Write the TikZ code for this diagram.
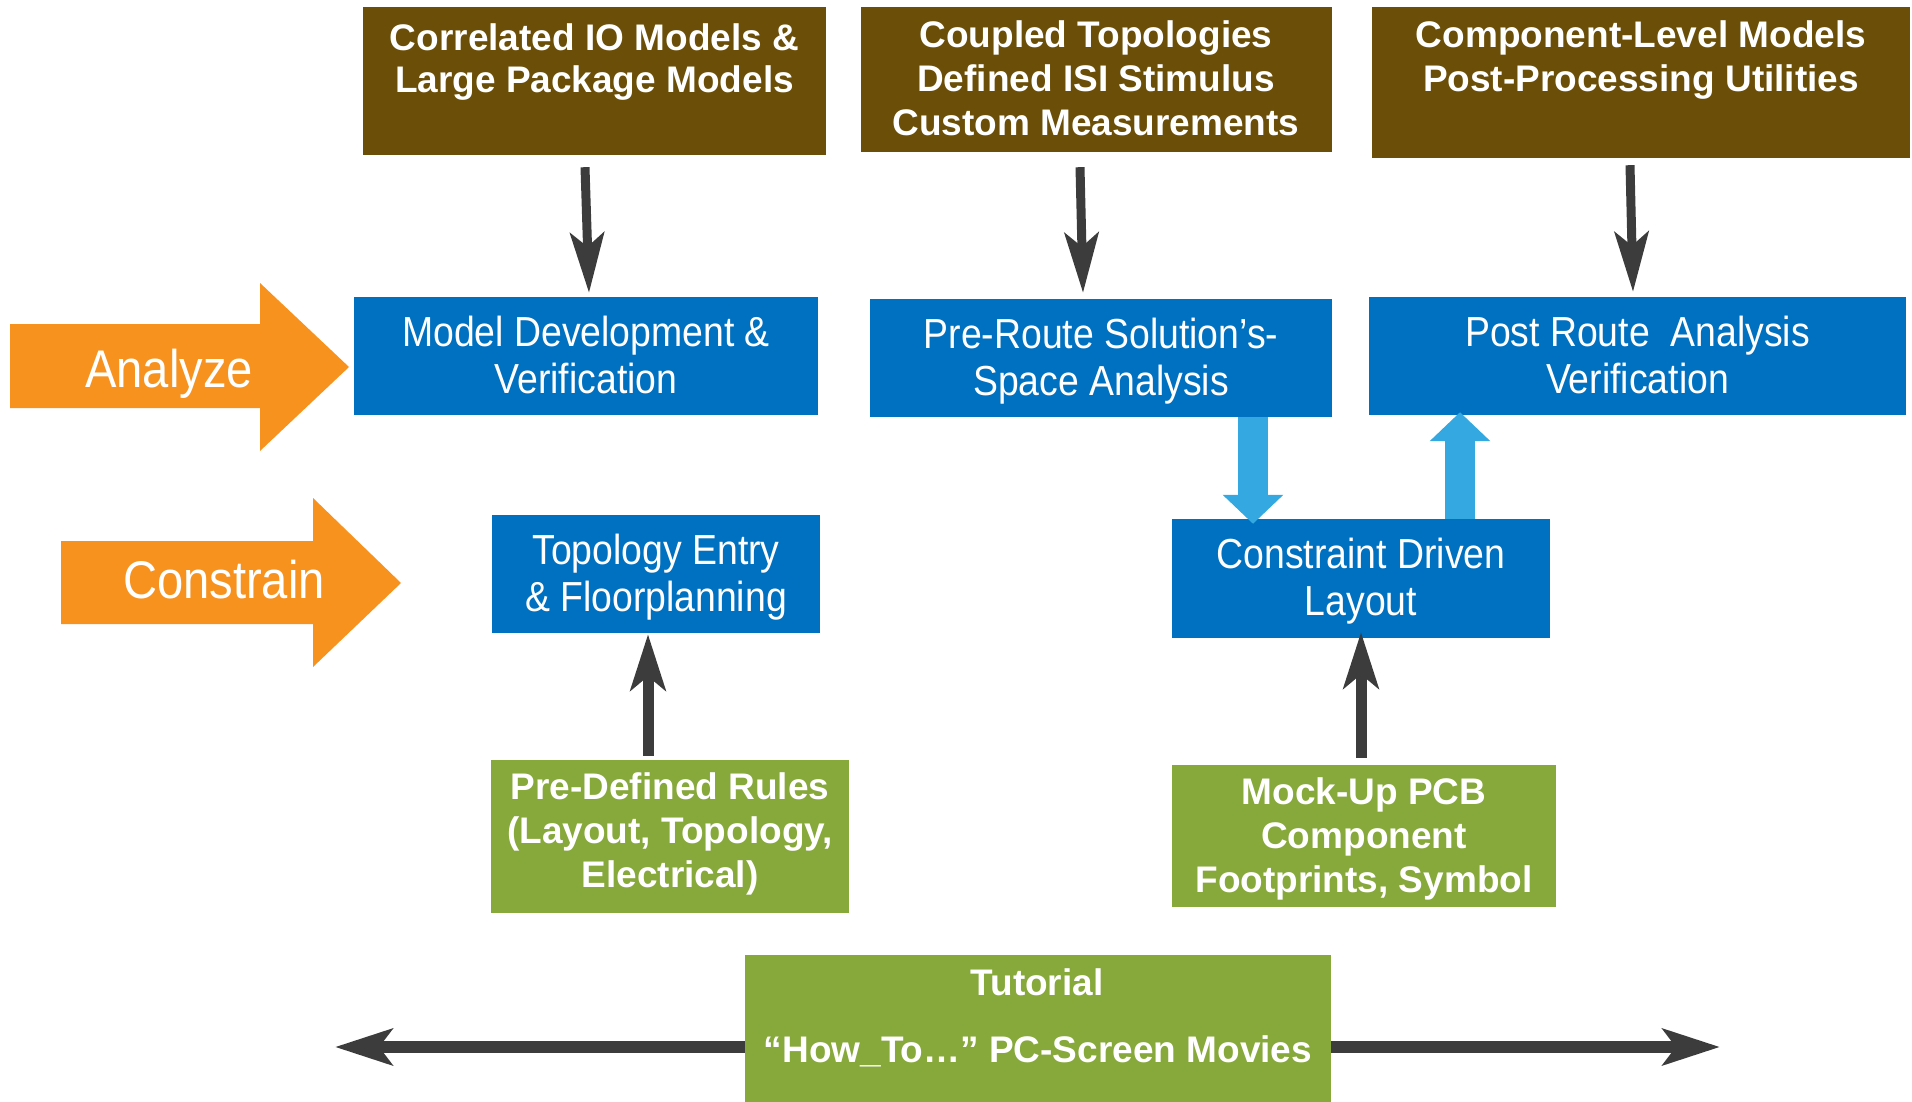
\documentclass[tikz,border=0pt]{standalone}
\usepackage{fontspec}
\setmainfont{Liberation Sans}
\newfontfamily\narrowsans[FakeStretch=0.89]{Liberation Sans}
\usetikzlibrary{arrows.meta}
\definecolor{inbrown}{RGB}{107,78,7}
\definecolor{flowblue}{RGB}{0,112,192}
\definecolor{linkblue}{RGB}{52,168,224}
\definecolor{phaseorange}{RGB}{247,146,30}
\definecolor{aidgreen}{RGB}{135,168,58}
\definecolor{darkline}{RGB}{60,60,60}

\begin{document}
\begin{tikzpicture}[x=1pt,y=-1pt,
  inputbox/.style={fill=inbrown, inner sep=0pt},
  inputtext/.style={text=white, align=center, font=\fontsize{37}{44}\selectfont\bfseries},
  stagebox/.style={fill=flowblue, inner sep=0pt},
  stagetext/.style={text=white, align=center, inner sep=0pt,
    font=\narrowsans\fontsize{42}{47}\selectfont},
  aidbox/.style={fill=aidgreen, inner sep=0pt},
  aidtext/.style={text=white, align=center, inner sep=0pt,
    font=\fontsize{37}{44}\selectfont\bfseries},
  phasetext/.style={text=white, inner sep=0pt, font=\narrowsans\fontsize{53}{60}\selectfont},
  feed/.style={draw=darkline, line width=9pt, -{Stealth[length=60pt,width=34pt,inset=14pt]}},
  feedup/.style={draw=darkline, line width=11pt, -{Stealth[length=56pt,width=35pt,inset=14pt]}},
  spread/.style={draw=darkline, line width=12pt, -{Stealth[length=57pt,width=36pt,inset=13pt]}},
  handoff/.style={draw=linkblue, line width=30pt, -{Triangle[length=29pt,width=59pt]}}
]
\useasboundingbox (0,0) rectangle (1912,1102);

% phase arrows on the left
\fill[phaseorange] (10,324) -- (260,324) -- (260,283) -- (349,367) -- (260,451)
  -- (260,408) -- (10,408) -- cycle;
\node[phasetext, anchor=base] (analyze) at (169,387) {Analyze};
\fill[phaseorange] (61,541) -- (313,541) -- (313,498) -- (401,583) -- (313,667)
  -- (313,624) -- (61,624) -- cycle;
\node[phasetext, anchor=base] (constrain) at (224,598) {Constrain};

% model inputs along the top
\node[inputbox, minimum width=463pt, minimum height=148pt] (b1) at (594.5,81) {};
\node[inputtext, font=\fontsize{37}{42}\selectfont\bfseries] (t1) at (594.5,62.5)
  {Correlated IO Models \&\\Large Package Models};
\node[inputbox, minimum width=471pt, minimum height=145pt] (b2) at (1096.5,79.5) {};
\node[inputtext] (t2) at (1096,78) {Coupled Topologies\\Defined ISI Stimulus\\Custom Measurements};
\node[inputbox, minimum width=538pt, minimum height=151pt] (b3) at (1641,82.5) {};
\node[inputtext] (t3) at (1641,60) {Component-Level Models\\Post-Processing Utilities};

% analysis and constraint stages
\node[stagebox, minimum width=464pt, minimum height=118pt] (md) at (586,356) {};
\node[stagetext] (mdt) at ([yshift=1pt]md.center) {Model Development \&\\Verification};
\node[stagebox, minimum width=462pt, minimum height=118pt] (pr) at (1101,358) {};
\node[stagetext] (prt) at ([yshift=-3pt]pr.center) {Pre-Route Solution’s-\\Space Analysis};
\node[stagebox, minimum width=537pt, minimum height=118pt] (po) at (1637.5,356) {};
\node[stagetext] (pot) at ([yshift=1pt]po.center) {Post Route\ \ Analysis\\Verification};
\node[stagebox, minimum width=328pt, minimum height=118pt] (tp) at (656,574) {};
\node[stagetext] (tpt) at ([yshift=-3.5pt]tp.center) {Topology Entry\\\& Floorplanning};
\node[stagebox, minimum width=378pt, minimum height=119pt] (cd) at (1361,578.5) {};
\node[stagetext] (cdt) at ([yshift=-2.5pt]cd.center) {Constraint Driven\\Layout};

% supporting material
\node[aidbox, minimum width=358pt, minimum height=153pt] (pd) at (670,836.5) {};
\node[aidtext] (pdt) at ([yshift=2.5pt]pd.center) {Pre-Defined Rules\\(Layout, Topology,\\Electrical)};
\node[aidbox, minimum width=384pt, minimum height=142pt] (mu) at (1364,836) {};
\node[aidtext] (mut) at ([yshift=-2.5pt]mu.center) {Mock-Up PCB\\Component\\Footprints, Symbol};
\node[aidbox, minimum width=586pt, minimum height=147pt] (tut) at (1038,1028.5) {};
\node[aidtext, anchor=base] (tut1) at (1037,995) {Tutorial};
\node[aidtext, anchor=base] (tut2) at (1038,1062) {“How\_To…” PC-Screen Movies};

% inputs feeding the stages
\draw[feed] ([xshift=-9.5pt,yshift=-12pt]b1.south) -- ([xshift=3pt,yshift=4pt]md.north);
\draw[feed] ([xshift=-16.5pt,yshift=-15pt]b2.south) -- ([xshift=-18pt,yshift=6pt]pr.north);
\draw[feed] ([xshift=-11pt,yshift=-7pt]b3.south) -- ([xshift=-4.5pt,yshift=5pt]po.north);

% rules and mock-ups feeding the constraint stages
\draw[feedup] ([xshift=-22pt,yshift=4pt]pd.north) -- ([xshift=-8pt,yshift=-1pt]tp.south);
\draw[feedup] ([xshift=-3pt,yshift=7pt]mu.north) -- ([yshift=6pt]cd.south);

% hand-off between pre-route, layout and post-route
\draw[handoff] ([xshift=152pt]pr.south) -- ([xshift=-108pt,yshift=-5pt]cd.north);
\draw[handoff] ([xshift=99pt]cd.north) -- ([xshift=-177.5pt,yshift=3pt]po.south);

% tutorial reach in both directions
\coordinate (lt) at (335,1047);
\coordinate (rt) at (1720,1047);
\draw[spread] (tut.west |- lt) -- (lt);
\draw[spread] (tut.east |- rt) -- (rt);
\end{tikzpicture}
\end{document}
